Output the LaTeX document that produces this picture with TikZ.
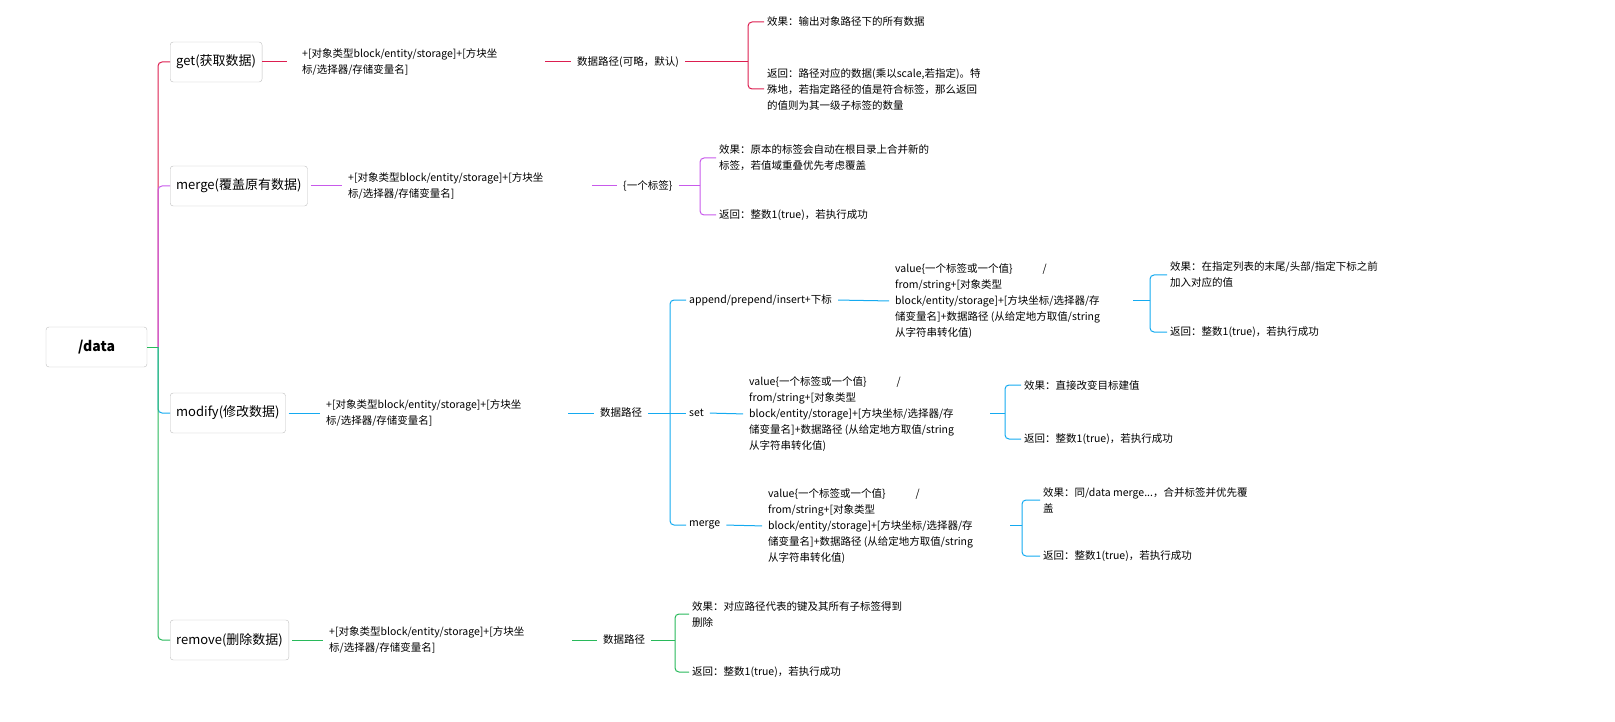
\documentclass[tikz,border=0pt]{standalone}
\usepackage{fontspec}
\setmainfont{Noto Sans CJK SC}
\begin{document}
\begin{tikzpicture}[x=1pt,y=-1pt,
  t/.style={anchor=west,align=left,inner sep=3pt,font=\fontsize{10.5}{16}\selectfont},
  box/.style={draw=black!25,rounded corners=3,fill=white,minimum height=40,inner xsep=6pt,font=\fontsize{13}{16}\selectfont},
  g/.style={shorten <=3pt,shorten >=3pt},
  cr/.style={draw={rgb,255:red,220;green,30;blue,80},line width=1pt,rounded corners=4},
  cp/.style={draw={rgb,255:red,200;green,90;blue,235},line width=1pt,rounded corners=4},
  cb/.style={draw={rgb,255:red,20;green,170;blue,240},line width=1pt,rounded corners=4},
  cg/.style={draw={rgb,255:red,40;green,185;blue,90},line width=1pt,rounded corners=4}]
\useasboundingbox (0,0) rectangle (1615,722);
% root
\node[box,minimum width=101,font=\fontsize{14}{16}\selectfont\bfseries] (root) at (96.5,347) {/data};
\coordinate (tr) at (158,347);
\draw[cg] (root.east) -- (tr);
\node[box,anchor=west] (get) at (170,62) {get(获取数据)};
\node[box,anchor=west] (mer) at (170,186) {merge(覆盖原有数据)};
\node[box,anchor=west] (mod) at (170,413) {modify(修改数据)};
\node[box,anchor=west] (rem) at (170,640) {remove(删除数据)};
\draw[cr] (tr) |- (get.west);
\draw[cp] (tr) |- (mer.west);
\draw[cb] (tr) |- (mod.west);
\draw[cg] (tr) |- (rem.west);
% get
\node[t] (g1) at (299,62) {+[对象类型block/entity/storage]+[方块坐\\标/选择器/存储变量名]};
\node[t] (g2) at (574,62) {数据路径(可略，默认)};
\node[t] (g3) at (764,22) {效果：输出对象路径下的所有数据};
\node[t] (g4) at (764,89) {返回：路径对应的数据(乘以scale,若指定)。特\\殊地，若指定路径的值是符合标签，那么返回\\的值则为其一级子标签的数量};
\draw[cr] (get.east) -- ++(25,0);
\draw[cr,g] (542,62) -- (g2.west);
\draw[cr,shorten <=3pt] (g2.east) -- (748,62) coordinate (gb);
\draw[cr] (gb) |- (g3.west);
\draw[cr] (gb) |- (g4.west);
% merge
\node[t] (m1) at (345,186) {+[对象类型block/entity/storage]+[方块坐\\标/选择器/存储变量名]};
\node[t] (m2) at (620,186) {\{一个标签\}};
\node[t] (m3) at (716,158) {效果：原本的标签会自动在根目录上合并新的\\标签，若值域重叠优先考虑覆盖};
\node[t] (m4) at (716,215) {返回：整数1(true)，若执行成功};
\draw[cp,g] (mer.east) -- (m1.west);
\draw[cp,g] (589,186) -- (m2.west);
\draw[cp,shorten <=3pt] (m2.east) -- (700,186) coordinate (mb);
\draw[cp] (mb) |- (m3.west);
\draw[cp] (mb) |- (m4.west);
% modify
\node[t] (d1) at (323,413) {+[对象类型block/entity/storage]+[方块坐\\标/选择器/存储变量名]};
\node[t] (d2) at (597,413) {数据路径};
\draw[cb,g] (mod.east) -- (d1.west);
\draw[cb,g] (565,413) -- (d2.west);
\draw[cb,shorten <=3pt] (d2.east) -- (670,413) coordinate (db);
\node[t] (a1) at (686,300) {append/prepend/insert+下标};
\node[t] (s1) at (686,413) {set};
\node[t] (e1) at (686,525) {merge};
\draw[cb] (db) |- (a1.west);
\draw[cb] (db) -- (s1.west);
\draw[cb] (db) |- (e1.west);
\node[t] (a2) at (892,301) {value\{一个标签或一个值\}\hspace{30pt}/\\from/string+[对象类型\\block/entity/storage]+[方块坐标/选择器/存\\储变量名]+数据路径 (从给定地方取值/string\\从字符串转化值)};
\node[t] (a3) at (1167,275) {效果：在指定列表的末尾/头部/指定下标之前\\加入对应的值};
\node[t] (a4) at (1167,332) {返回：整数1(true)，若执行成功};
\draw[cb,g] (a1.east) -- (a2.west);
\draw[cb] (1133,300) -- (1150,300) coordinate (ab);
\draw[cb] (ab) |- (a3.west);
\draw[cb] (ab) |- (a4.west);
\node[t] (s2) at (746,414) {value\{一个标签或一个值\}\hspace{30pt}/\\from/string+[对象类型\\block/entity/storage]+[方块坐标/选择器/存\\储变量名]+数据路径 (从给定地方取值/string\\从字符串转化值)};
\node[t] (s3) at (1021,385) {效果：直接改变目标建值};
\node[t] (s4) at (1021,439) {返回：整数1(true)，若执行成功};
\draw[cb,g] (s1.east) -- (s2.west);
\draw[cb] (990,413) -- (1005,413) coordinate (sb);
\draw[cb] (sb) |- (s3.west);
\draw[cb] (sb) |- (s4.west);
\node[t] (e2) at (765,526) {value\{一个标签或一个值\}\hspace{30pt}/\\from/string+[对象类型\\block/entity/storage]+[方块坐标/选择器/存\\储变量名]+数据路径 (从给定地方取值/string\\从字符串转化值)};
\node[t] (e3) at (1040,500) {效果：同/data merge...，合并标签并优先覆\\盖};
\node[t] (e4) at (1040,556) {返回：整数1(true)，若执行成功};
\draw[cb,g] (e1.east) -- (e2.west);
\draw[cb] (1010,525) -- (1022,525) coordinate (eb);
\draw[cb] (eb) |- (e3.west);
\draw[cb] (eb) |- (e4.west);
% remove
\node[t] (r1) at (326,640) {+[对象类型block/entity/storage]+[方块坐\\标/选择器/存储变量名]};
\node[t] (r2) at (600,640) {数据路径};
\node[t] (r3) at (689,614) {效果：对应路径代表的键及其所有子标签得到\\删除};
\node[t] (r4) at (689,672) {返回：整数1(true)，若执行成功};
\draw[cg,g] (rem.east) -- (r1.west);
\draw[cg,g] (569,640) -- (r2.west);
\draw[cg,shorten <=3pt] (r2.east) -- (675,640) coordinate (rb);
\draw[cg] (rb) |- (r3.west);
\draw[cg] (rb) |- (r4.west);
\end{tikzpicture}
\end{document}
